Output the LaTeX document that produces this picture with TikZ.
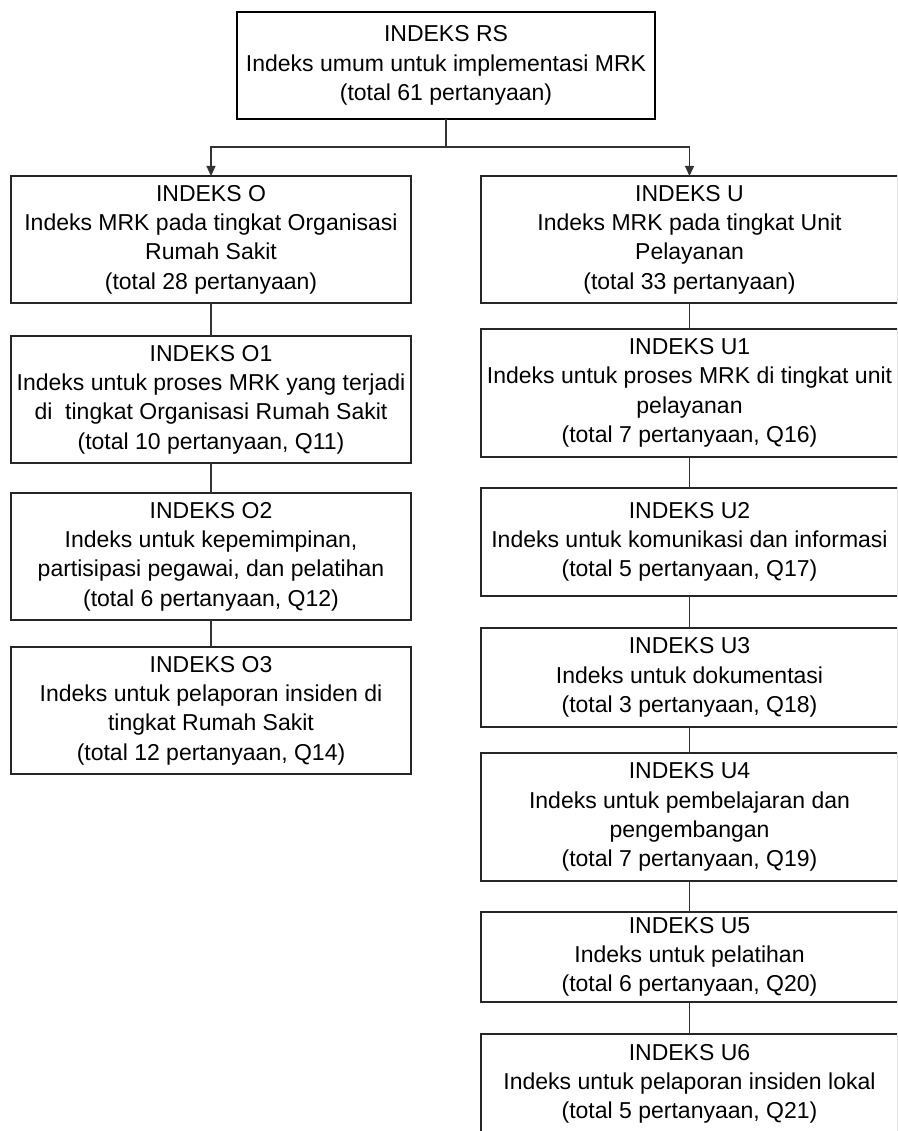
\documentclass[tikz,border=0pt]{standalone}
\usepackage{fontspec}
\setmainfont{Liberation Sans}
\usetikzlibrary{arrows.meta}
\begin{document}
\begin{tikzpicture}[x=1pt,y=-1pt,
  boxst/.style={draw=black!85,line width=1.2pt,rectangle,inner sep=0pt,outer sep=0pt,
    align=center,font=\fontsize{23}{29.3}\selectfont},
  rootst/.style={boxst,draw=black,line width=2.6pt},
  conn/.style={draw=black!80,line width=1.2pt},
  arr/.style={conn,-{Triangle[width=9pt,length=10pt]}}]
\useasboundingbox (0,0) rectangle (897,1131);
\clip (0,0) rectangle (897,1131);
% root
\node[rootst,minimum width=418pt,minimum height=107pt] (rs) at (446,65.5)
  {INDEKS RS\\Indeks umum untuk implementasi MRK\\(total 61 pertanyaan)};
% left column
\node[boxst,minimum width=400pt,minimum height=127pt] (o) at (211,239.5)
  {INDEKS O\\Indeks MRK pada tingkat Organisasi\\Rumah Sakit\\(total 28 pertanyaan)};
\node[boxst,minimum width=400pt,minimum height=127pt] (o1) at (211,399.5)
  {INDEKS O1\\Indeks untuk proses MRK yang terjadi\\di~~tingkat Organisasi Rumah Sakit\\(total 10 pertanyaan, Q11)};
\node[boxst,minimum width=400pt,minimum height=127pt] (o2) at (211,556.5)
  {INDEKS O2\\Indeks untuk kepemimpinan,\\partisipasi pegawai, dan pelatihan\\(total 6 pertanyaan, Q12)};
\node[boxst,minimum width=400pt,minimum height=127pt] (o3) at (211,710.5)
  {INDEKS O3\\Indeks untuk pelaporan insiden di\\tingkat Rumah Sakit\\(total 12 pertanyaan, Q14)};
% right column
\node[boxst,minimum width=417pt,minimum height=127pt] (u) at (689.5,239.5)
  {INDEKS U\\Indeks MRK pada tingkat Unit\\Pelayanan\\(total 33 pertanyaan)};
\node[boxst,minimum width=417pt,minimum height=128pt] (u1) at (689.5,393)
  {INDEKS U1\\Indeks untuk proses MRK di tingkat unit\\pelayanan\\(total 7 pertanyaan, Q16)};
\node[boxst,minimum width=417pt,minimum height=108pt] (u2) at (689.5,542)
  {INDEKS U2\\Indeks untuk komunikasi dan informasi\\(total 5 pertanyaan, Q17)};
\node[boxst,minimum width=417pt,minimum height=99pt] (u3) at (689.5,677.5)
  {INDEKS U3\\Indeks untuk dokumentasi\\(total 3 pertanyaan, Q18)};
\node[boxst,minimum width=417pt,minimum height=128pt] (u4) at (689.5,817)
  {INDEKS U4\\Indeks untuk pembelajaran dan\\pengembangan\\(total 7 pertanyaan, Q19)};
\node[boxst,minimum width=417pt,minimum height=90pt] (u5) at (689.5,957)
  {INDEKS U5\\Indeks untuk pelatihan\\(total 6 pertanyaan, Q20)};
\node[boxst,minimum width=417pt,minimum height=100pt] (u6) at (689.5,1084)
  {INDEKS U6\\Indeks untuk pelaporan insiden lokal\\(total 5 pertanyaan, Q21)};
% connectors
\coordinate (j) at (446,147);
\draw[conn] (rs.south) -- (j);
\draw[arr] (j) -| (o.north);
\draw[arr] (j) -| (u.north);
\draw[conn] (o.south) -- (o1.north);
\draw[conn] (o1.south) -- (o2.north);
\draw[conn] (o2.south) -- (o3.north);
\draw[conn] (u.south) -- (u1.north);
\draw[conn] (u1.south) -- (u2.north);
\draw[conn] (u2.south) -- (u3.north);
\draw[conn] (u3.south) -- (u4.north);
\draw[conn] (u4.south) -- (u5.north);
\draw[conn] (u5.south) -- (u6.north);
\end{tikzpicture}
\end{document}
